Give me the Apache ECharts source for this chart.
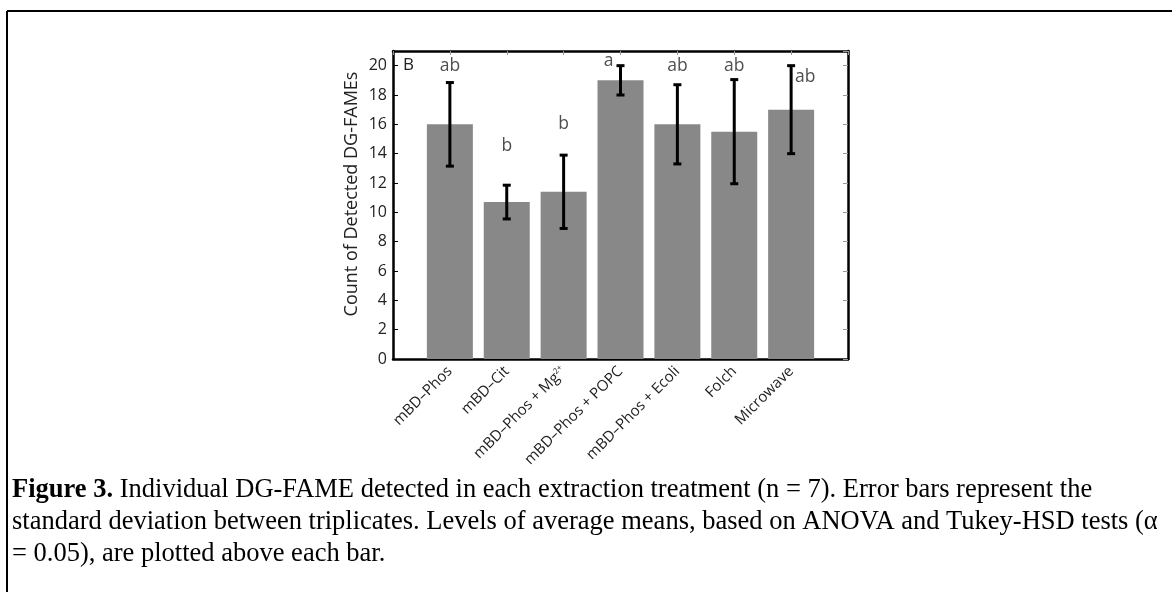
<!DOCTYPE html>
<html>
<head>
<meta charset="utf-8">
<script src="https://cdn.jsdelivr.net/npm/echarts@6/dist/echarts.min.js"></script>
<style>
html,body{margin:0;padding:0;background:#fff;}
#c{width:1172px;height:592px;}
</style>
</head>
<body>
<div id="c"></div>
<script>
var categories = ['mBD\u2013Phos', 'mBD\u2013Cit', 'mBD\u2013Phos + Mg{sup|2+}', 'mBD\u2013Phos + POPC', 'mBD\u2013Phos + Ecoli', 'Folch', 'Microwave'];
var means = [16, 10.7, 11.4, 19, 16, 15.5, 17];
var stdDevs = [2.85, 1.15, 2.5, 1.0, 2.7, 3.55, 3.0];
var groupLetters = ['ab', 'b', 'b', 'a', 'ab', 'ab', 'ab'];
var letterY = [20.0, 14.5, 16.0, 20.3, 20.0, 20.0, 19.25];
var letterDx = [0, 0, 0, -12, 0, 0, 14];
var yTicks = [0, 2, 4, 6, 8, 10, 12, 14, 16, 18, 20];
var panelLabel = 'B';
var yTitle = 'Count of Detected DG-FAMEs';
var captionLines = [
  '{b|Figure 3.} Individual DG-FAME detected in each extraction treatment (n = 7). Error bars represent the',
  'standard deviation between triplicates. Levels of average means, based on ANOVA and Tukey-HSD tests (\u03b1',
  '= 0.05), are plotted above each bar.'
];

var chart = echarts.init(document.getElementById('c'), null, {renderer: 'canvas'});

var barData = means.map(function (v, i) { return [i + 1, v]; });
var errData = means.map(function (v, i) { return [i + 1, v - stdDevs[i], v + stdDevs[i]]; });
var letterData = groupLetters.map(function (t, i) {
  return {value: [i + 1, letterY[i]], label: {offset: [letterDx[i], 0]}, name: t};
});

var sans = '"Open Sans", "Noto Sans", sans-serif';
var serif = '"Liberation Serif", serif';
var capFont = 26.5;

var graphics = [
  {type: 'line', shape: {x1: 7, y1: 11, x2: 1172, y2: 11}, style: {stroke: '#000', lineWidth: 2}},
  {type: 'line', shape: {x1: 7, y1: 11, x2: 7, y2: 592}, style: {stroke: '#000', lineWidth: 2}},
  {type: 'text', left: 403, top: 57, style: {text: panelLabel, fontFamily: sans, fontSize: 17, fill: '#222'}},
  {type: 'text', x: 352, y: 194, rotation: Math.PI / 2,
    style: {text: yTitle, fontFamily: sans, fontSize: 18, fill: '#222', align: 'center', verticalAlign: 'middle'}}
];
captionLines.forEach(function (t, i) {
  graphics.push({type: 'text', x: 12, y: 490 + i * 32, style: {
    text: t, fontFamily: serif, fontSize: capFont, fill: '#000', verticalAlign: 'middle',
    rich: {b: {fontWeight: 'bold', fontFamily: serif, fontSize: capFont, fill: '#000'}}}});
});

var option = {
  backgroundColor: '#ffffff',
  animation: false,
  grid: {left: 393, top: 51, width: 455, height: 308, containLabel: false},
  xAxis: [{
    type: 'value', min: 0, max: 8, interval: 1, position: 'bottom',
    axisLine: {show: true, onZero: false, lineStyle: {color: '#000', width: 2.5}},
    axisTick: {show: true, inside: true, length: 4, lineStyle: {color: '#000'}},
    splitLine: {show: false},
    axisLabel: {
      rotate: 45, margin: 10, color: '#222', fontFamily: sans, fontSize: 15,
      formatter: function (v) { return (v >= 1 && v <= 7) ? categories[v - 1] : ''; },
      rich: {sup: {fontSize: 8, verticalAlign: 'top', color: '#222', fontFamily: sans, padding: [0, 0, 7, 0]}}
    }
  }, {
    type: 'value', min: 0, max: 8, interval: 1, position: 'top',
    axisLine: {show: true, onZero: false, lineStyle: {color: '#000', width: 2.5}},
    axisTick: {show: true, inside: true, length: 4, lineStyle: {color: '#999'}},
    splitLine: {show: false}, axisLabel: {show: false}
  }],
  yAxis: [{
    type: 'value', min: 0, max: 21, interval: 2, position: 'left',
    axisLine: {show: true, onZero: false, lineStyle: {color: '#000', width: 2.5}},
    axisTick: {show: true, inside: true, length: 5, lineStyle: {color: '#000'}},
    splitLine: {show: false},
    axisLabel: {
      color: '#222', fontFamily: sans, fontSize: 16, margin: 6, showMaxLabel: false,
      formatter: function (v) { return yTicks.indexOf(v) >= 0 ? String(v) : ''; }
    }
  }, {
    type: 'value', min: 0, max: 21, interval: 2, position: 'right',
    axisLine: {show: true, onZero: false, lineStyle: {color: '#000', width: 2.5}},
    axisTick: {show: true, inside: true, length: 5, lineStyle: {color: '#999'}},
    splitLine: {show: false}, axisLabel: {show: false}
  }],
  series: [{
    type: 'bar', xAxisIndex: 0, yAxisIndex: 0,
    data: barData, barWidth: 46,
    itemStyle: {color: '#888888'}
  }, {
    type: 'custom', xAxisIndex: 0, yAxisIndex: 0,
    data: errData,
    renderItem: function (params, api) {
      var x = api.value(0);
      var lo = api.coord([x, api.value(1)]);
      var hi = api.coord([x, api.value(2)]);
      var cap = 4;
      var st = {stroke: '#000', lineWidth: 3};
      return {type: 'group', children: [
        {type: 'line', shape: {x1: lo[0], y1: lo[1], x2: hi[0], y2: hi[1]}, style: st},
        {type: 'line', shape: {x1: lo[0] - cap, y1: lo[1], x2: lo[0] + cap, y2: lo[1]}, style: st},
        {type: 'line', shape: {x1: hi[0] - cap, y1: hi[1], x2: hi[0] + cap, y2: hi[1]}, style: st}
      ]};
    },
    z: 5
  }, {
    type: 'scatter', xAxisIndex: 0, yAxisIndex: 0,
    data: letterData, symbolSize: 1, itemStyle: {color: 'rgba(0,0,0,0)'},
    label: {
      show: true, position: 'inside', color: '#222', fontFamily: sans, fontSize: 17.5,
      formatter: function (p) { return p.name; }
    },
    z: 6
  }],
  graphic: graphics
};
chart.setOption(option);
</script>
</body>
</html>
